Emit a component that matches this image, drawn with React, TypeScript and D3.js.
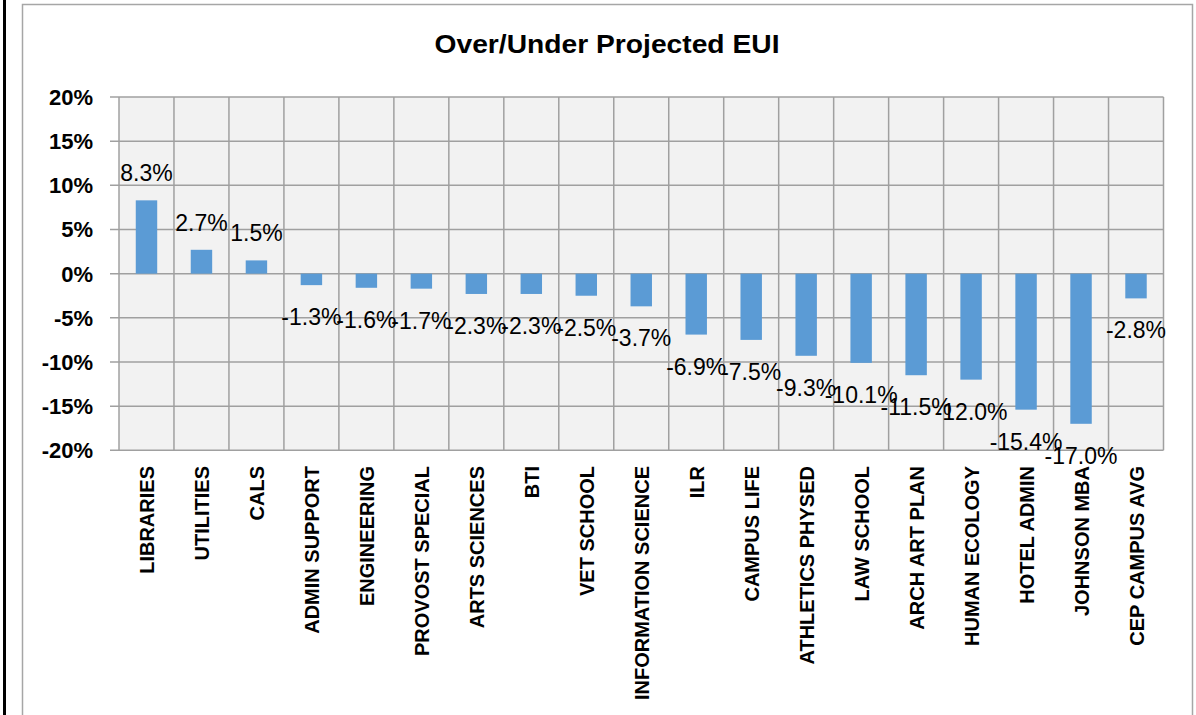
import React from "react";
import * as d3 from "d3";

const categories: string[] = [
  "LIBRARIES", "UTILITIES", "CALS", "ADMIN SUPPORT", "ENGINEERING", "PROVOST SPECIAL",
  "ARTS SCIENCES", "BTI", "VET SCHOOL", "INFORMATION SCIENCE", "ILR", "CAMPUS LIFE",
  "ATHLETICS PHYSED", "LAW SCHOOL", "ARCH ART PLAN", "HUMAN ECOLOGY", "HOTEL ADMIN",
  "JOHNSON MBA", "CEP CAMPUS AVG",
];
const values: number[] = [
  0.083, 0.027, 0.015, -0.013, -0.016, -0.017, -0.023, -0.023, -0.025, -0.037, -0.069,
  -0.075, -0.093, -0.101, -0.115, -0.12, -0.154, -0.17, -0.028,
];
const yTicks: number[] = [0.2, 0.15, 0.1, 0.05, 0, -0.05, -0.1, -0.15, -0.2];
const title = "Over/Under Projected EUI";

const FONT = "'Liberation Sans', Arial, sans-serif";
const hyphen = (s: string) => s.replace(/\u2212/g, "-");

export default function App() {
  const left = 119, right = 1163.5, top = 97, bottom = 450.3;
  const x = d3.scaleBand<string>().domain(categories).range([left, right]).padding(0);
  const y = d3.scaleLinear().domain([-0.2, 0.2]).range([bottom, top]);
  const bw = x.bandwidth() * 0.39;
  const fmt = (v: number) => hyphen(d3.format(".1%")(v));
  const fmtTick = (v: number) => hyphen(d3.format(".0%")(v));
  const grid = "#A0A0A0";
  const boundaries = d3.range(categories.length + 1).map((i) => left + i * x.step());

  return (
    <svg width={1196} height={715} style={{ position: "absolute", left: 0, top: 0, background: "#fff" }}>
      <rect x={3} y={0} width={3} height={715} fill="#000" />
      <path d="M22.5,715 V4.5 H1192.5 V715" fill="none" stroke="#A6A6A6" strokeWidth={1.5} />

      <text x={607} y={53} textAnchor="middle" fontFamily={FONT} fontWeight="bold" fontSize={26}
        textLength={345} lengthAdjust="spacingAndGlyphs">{title}</text>

      <rect x={left} y={top} width={right - left} height={bottom - top} fill="#F2F2F2" />
      {yTicks.map((t) => (
        <line key={"h" + t} x1={110} x2={right} y1={y(t)} y2={y(t)} stroke={grid} strokeWidth={1.5} />
      ))}
      {boundaries.map((bx, i) => (
        <line key={"v" + i} x1={bx} x2={bx} y1={top} y2={bottom} stroke={grid} strokeWidth={1.5} />
      ))}
      {yTicks.map((t) => (
        <text key={"t" + t} x={93} y={y(t)} dy="0.36em" textAnchor="end" fontFamily={FONT}
          fontWeight="bold" fontSize={22} fill="#000">{fmtTick(t)}</text>
      ))}

      {categories.map((c, i) => {
        const v = values[i];
        const cx = (x(c) as number) + x.bandwidth() / 2;
        return (
          <rect key={"b" + c} x={cx - bw / 2} width={bw} y={Math.min(y(v), y(0))}
            height={Math.abs(y(v) - y(0))} fill="#5B9BD5" />
        );
      })}

      {categories.map((c, i) => {
        const v = values[i];
        const cx = (x(c) as number) + x.bandwidth() / 2;
        const ty = v >= 0 ? y(v) - 19 : y(v) + 40;
        return (
          <text key={"l" + c} x={cx} y={ty} textAnchor="middle" fontFamily={FONT} fontSize={23}
            fill="#000">{fmt(v)}</text>
        );
      })}

      {categories.map((c) => {
        const cx = (x(c) as number) + x.bandwidth() / 2;
        return (
          <text key={"c" + c} transform={`translate(${cx + 8},466) rotate(-90)`} textAnchor="end"
            fontFamily={FONT} fontWeight="bold" fontSize={20} fill="#000">{c}</text>
        );
      })}
    </svg>
  );
}
